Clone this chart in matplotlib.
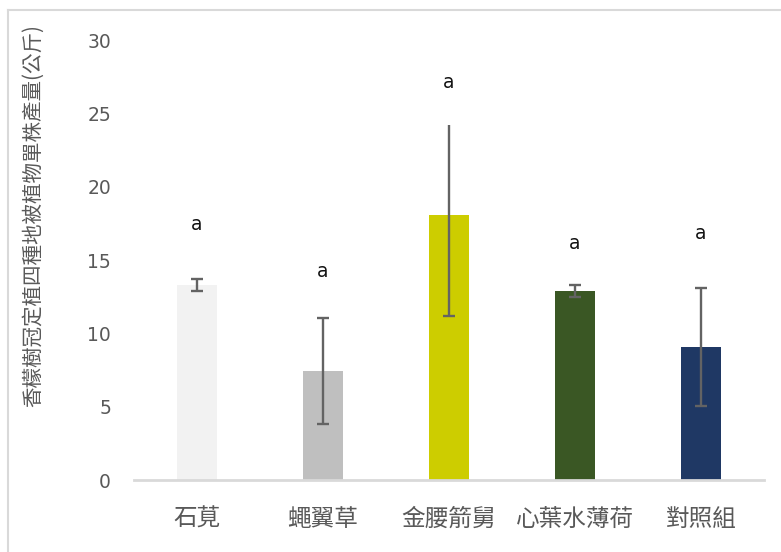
import numpy as np
import matplotlib
import matplotlib.pyplot as plt
from matplotlib.lines import Line2D
matplotlib.use('Agg')

plt.rcParams['font.family'] = ['Noto Sans CJK TC', 'DejaVu Sans']

# 單株產量 (公斤) 與誤差
categories = ['石莧', '蠅翼草', '金腰箭舅', '心葉水薄荷', '對照組']
means = [13.3, 7.43, 18.07, 12.9, 9.07]
err_low = [0.42, 3.63, 6.9, 0.42, 4.05]
err_high = [0.42, 3.63, 6.14, 0.42, 4.05]
letters = ['a', 'a', 'a', 'a', 'a']
letter_y = [17.4, 14.2, 27.1, 16.15, 16.8]
colors = ['#f2f2f2', '#bfbfbf', '#cdcd00', '#3a5724', '#1f3864']
y_ticks = [0, 5, 10, 15, 20, 25, 30]

fig = plt.figure(figsize=(7.81, 5.52), dpi=100)
ax = fig.add_axes([134 / 781, 72 / 552, 630 / 781, 440 / 552])

x = np.arange(len(categories))
ax.bar(x, means, width=0.32, color=colors, zorder=2)

eb = ax.errorbar(x, means, yerr=[err_low, err_high], fmt='none',
                 ecolor='#636363', elinewidth=1.7, capsize=4.3, capthick=1.7, zorder=3)
# 金腰箭舅 上方誤差線不加端帽
top_miss = means[2] + err_high[2]
for cap in eb.lines[1]:
    xd, yd = cap.get_data()
    xd, yd = np.asarray(xd), np.asarray(yd)
    keep = ~np.isclose(yd, top_miss)
    cap.set_data(xd[keep], yd[keep])

for xi, (lab, ly) in enumerate(zip(letters, letter_y)):
    ax.text(xi, ly, lab, ha='center', va='center', fontsize=13.5,
            color='#111111', family='DejaVu Sans')

ax.set_xlim(-0.5, 4.5)
ax.set_ylim(0, 30)
ax.set_yticks(y_ticks)
ax.set_yticklabels([str(t) for t in y_ticks], family='DejaVu Sans', fontsize=13.5, color='#595959')
ax.set_xticks(x)
ax.set_xticklabels(categories, fontsize=17, color='#595959')
ax.tick_params(axis='both', length=0)
ax.tick_params(axis='y', pad=16.5)
ax.tick_params(axis='x', pad=20)

for side in ['top', 'right', 'left']:
    ax.spines[side].set_visible(False)
ax.spines['bottom'].set_color('#d9d9d9')
ax.spines['bottom'].set_linewidth(2)

fig.text(33 / 781, 1 - 216 / 552, '香檬樹冠定植四種地被植物單株產量(公斤)', rotation=90,
         ha='center', va='center', fontsize=14.8, color='#595959')

# 圖表外框
fig.add_artist(Line2D([8 / 781, 1], [1 - 10 / 552, 1 - 10 / 552],
                      transform=fig.transFigure, color='#d9d9d9', lw=1.5))
fig.add_artist(Line2D([8 / 781, 8 / 781], [0, 1 - 10 / 552],
                      transform=fig.transFigure, color='#d9d9d9', lw=1.5))

fig.savefig('out.png', dpi=100)
